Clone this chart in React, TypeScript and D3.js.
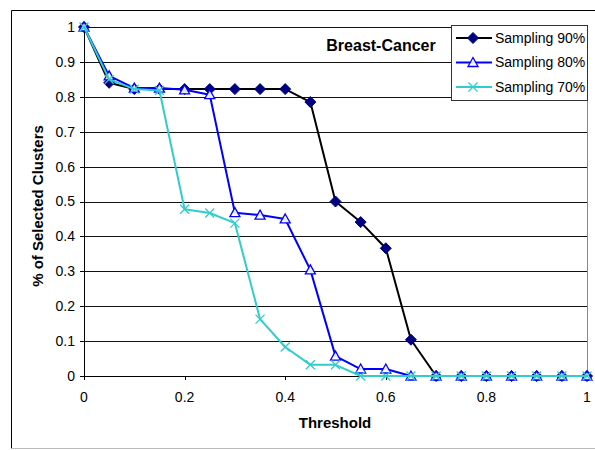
import React from 'react';
import * as d3 from 'd3';

// Chart data
const thresholds = [0, 0.05, 0.1, 0.15, 0.2, 0.25, 0.3, 0.35, 0.4, 0.45, 0.5, 0.55, 0.6, 0.65, 0.7, 0.75, 0.8, 0.85, 0.9, 0.95, 1];
const sampling90 = [1, 0.84, 0.822, 0.822, 0.822, 0.822, 0.822, 0.822, 0.822, 0.785, 0.5, 0.441, 0.366, 0.104, 0, 0, 0, 0, 0, 0, 0];
const sampling80 = [1, 0.86, 0.825, 0.825, 0.82, 0.806, 0.468, 0.461, 0.45, 0.304, 0.057, 0.02, 0.02, 0, 0, 0, 0, 0, 0, 0, 0];
const sampling70 = [1, 0.85, 0.822, 0.818, 0.478, 0.467, 0.438, 0.163, 0.083, 0.032, 0.032, 0, 0, 0, 0, 0, 0, 0, 0, 0, 0];
const seriesNames = ['Sampling 90%', 'Sampling 80%', 'Sampling 70%'];
const yTicks = [0, 0.1, 0.2, 0.3, 0.4, 0.5, 0.6, 0.7, 0.8, 0.9, 1];
const xTicks = [0, 0.2, 0.4, 0.6, 0.8, 1];

const FONT = '"Liberation Sans", Arial, sans-serif';

const series = [
  { name: seriesNames[0], values: sampling90, line: '#000000', marker: 'diamond', color: '#000080' },
  { name: seriesNames[1], values: sampling80, line: '#0000ff', marker: 'triangle', color: '#0000ff' },
  { name: seriesNames[2], values: sampling70, line: '#33cccc', marker: 'cross', color: '#33cccc' },
];

const Marker: React.FC<{ kind: string; x: number; y: number; color: string }> = ({ kind, x, y, color }) => {
  if (kind === 'diamond') {
    const r = 5.5;
    return <path d={`M${x},${y - r}L${x + r},${y}L${x},${y + r}L${x - r},${y}Z`} fill={color} stroke={color} strokeWidth={1} />;
  }
  if (kind === 'triangle') {
    const r = 5;
    return (
      <path
        d={`M${x},${y - r}L${x + r},${y + r * 0.8}L${x - r},${y + r * 0.8}Z`}
        fill="white"
        fillOpacity={0.9}
        stroke={color}
        strokeWidth={1.3}
      />
    );
  }
  const r = 4.5;
  return (
    <path
      d={`M${x - r},${y - r}L${x + r},${y + r}M${x + r},${y - r}L${x - r},${y + r}`}
      stroke={color}
      strokeWidth={1.3}
      fill="none"
    />
  );
};

export default function App() {
  const width = 595;
  const height = 451;
  const plot = { left: 84, right: 587, top: 27, bottom: 376 };

  const x = d3.scaleLinear().domain([0, 1]).range([plot.left, plot.right]);
  const y = d3.scaleLinear().domain([0, 1]).range([plot.bottom, plot.top]);

  const line = d3
    .line<number>()
    .x((_, i) => x(thresholds[i]))
    .y((d) => y(d));

  const legend = { x: 451, y: 25, w: 136, h: 75 };

  return (
    <svg
      width={width}
      height={height}
      style={{ position: 'absolute', left: 0, top: 0, background: 'white' }}
      fontFamily={FONT}
    >
      {/* outer frame */}
      <line x1={11.5} y1={10.5} x2={595} y2={10.5} stroke="#000" />
      <line x1={11.5} y1={10.5} x2={11.5} y2={448.5} stroke="#000" />
      <line x1={11.5} y1={448.5} x2={595} y2={448.5} stroke="#bbb" />

      {/* gridlines */}
      {yTicks.map((t) => (
        <line key={t} x1={plot.left} x2={plot.right} y1={Math.round(y(t)) + 0.5} y2={Math.round(y(t)) + 0.5} stroke="#111" strokeWidth={1} />
      ))}
      {/* plot right edge */}
      <line x1={plot.right + 0.5} x2={plot.right + 0.5} y1={plot.top} y2={plot.bottom} stroke="#888" />

      {/* y axis */}
      <line x1={plot.left + 0.5} x2={plot.left + 0.5} y1={plot.top} y2={plot.bottom + 0.5} stroke="#000" />
      {yTicks.map((t) => (
        <g key={t}>
          <line x1={plot.left - 4} x2={plot.left} y1={Math.round(y(t)) + 0.5} y2={Math.round(y(t)) + 0.5} stroke="#000" />
          <text x={plot.left - 9} y={y(t)} dy="0.35em" textAnchor="end" fontSize={14}>
            {t === 0 || t === 1 ? String(t) : t.toFixed(1)}
          </text>
        </g>
      ))}

      {/* x axis */}
      <line x1={plot.left} x2={plot.right} y1={plot.bottom + 0.5} y2={plot.bottom + 0.5} stroke="#000" />
      {xTicks.map((t) => (
        <g key={t}>
          <line x1={Math.round(x(t)) + 0.5} x2={Math.round(x(t)) + 0.5} y1={plot.bottom} y2={plot.bottom + 4} stroke="#000" />
          <text x={x(t)} y={plot.bottom + 26} textAnchor="middle" fontSize={14}>
            {t === 0 || t === 1 ? String(t) : t.toFixed(1)}
          </text>
        </g>
      ))}

      {/* axis titles */}
      <text x={335} y={428} textAnchor="middle" fontSize={15} fontWeight="bold">
        Threshold
      </text>
      <text transform="translate(43,206) rotate(-90)" textAnchor="middle" fontSize={15} fontWeight="bold">
        % of Selected Clusters
      </text>

      {/* series */}
      {series.map((s) => (
        <g key={s.name}>
          <path d={line(s.values) || ''} fill="none" stroke={s.line} strokeWidth={2} strokeLinejoin="round" />
          {s.values.map((v, i) => (
            <Marker key={i} kind={s.marker} x={x(thresholds[i])} y={y(v)} color={s.color} />
          ))}
        </g>
      ))}

      {/* title */}
      <text x={381} y={51} textAnchor="middle" fontSize={16} fontWeight="bold">
        Breast-Cancer
      </text>

      {/* legend */}
      <rect x={legend.x + 0.5} y={legend.y + 0.5} width={legend.w} height={legend.h} fill="white" stroke="#333" />
      {series.map((s, i) => {
        const ly = legend.y + 13 + i * 24.5;
        return (
          <g key={s.name}>
            <line x1={legend.x + 5} x2={legend.x + 41} y1={ly} y2={ly} stroke={s.line} strokeWidth={2} />
            <Marker kind={s.marker} x={legend.x + 22} y={ly} color={s.color} />
            <text x={legend.x + 44} y={ly} dy="0.35em" fontSize={14}>
              {s.name}
            </text>
          </g>
        );
      })}
    </svg>
  );
}
